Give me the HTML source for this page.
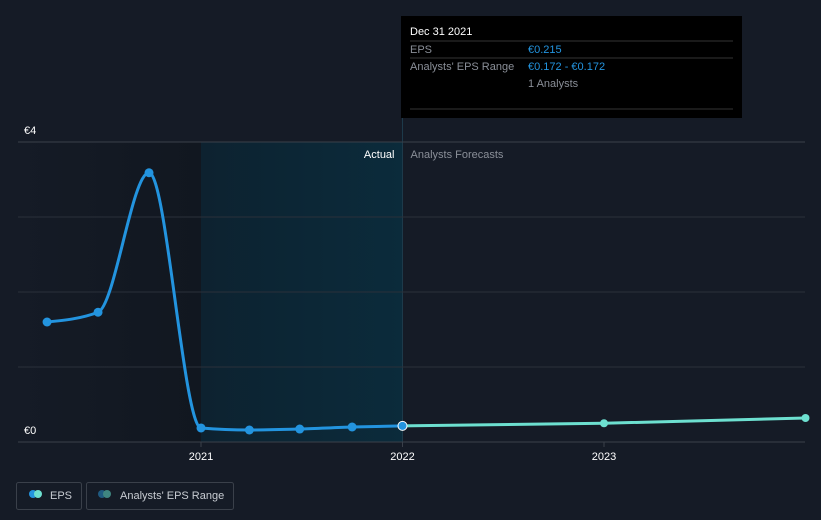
<!DOCTYPE html>
<html><head><meta charset="utf-8"><style>
html,body{margin:0;padding:0;background:#151b26;width:821px;height:520px;overflow:hidden;font-family:"Liberation Sans",sans-serif}
svg text{font-family:"Liberation Sans",sans-serif}
</style></head><body>
<svg id="chart" width="821" height="520">
<defs>
<linearGradient id="pastg" x1="0" x2="1"><stop offset="0" stop-color="#151b26"/><stop offset="1" stop-color="#111720"/></linearGradient>
<linearGradient id="hlg" x1="0" x2="1"><stop offset="0" stop-color="#0d2230"/><stop offset="1" stop-color="#0b2b3b"/></linearGradient>
</defs>
<g id="bg"></g><g id="grid"></g><g id="series"></g><g id="axes"></g>
<g>
<rect x="401" y="16" width="341" height="102" fill="#000"/>
<text x="410" y="35" fill="#fff" font-size="11">Dec 31 2021</text>
<line x1="410" y1="41" x2="733" y2="41" stroke="#333"/>
<text x="410" y="53" fill="#8a8f98" font-size="11">EPS</text>
<text x="528" y="53" fill="#2394df" font-size="11">€0.215</text>
<line x1="410" y1="58" x2="733" y2="58" stroke="#333"/>
<text x="410" y="70" fill="#8a8f98" font-size="11">Analysts' EPS Range</text>
<text x="528" y="70" fill="#2394df" font-size="11">€0.172 - €0.172</text>
<text x="528" y="87" fill="#8a8f98" font-size="11">1 Analysts</text>
<line x1="410" y1="109" x2="733" y2="109" stroke="#333"/>
</g>
<g>
<g>
<rect x="16.5" y="482.5" width="65" height="27" rx="2" fill="none" stroke="#3a404a"/>
<circle cx="33" cy="494" r="4" fill="#2394df"/><circle cx="38" cy="494" r="4" fill="#6de0d0"/>
<text x="50" y="499" fill="#c8ccd2" font-size="11">EPS</text></g>
<g>
<rect x="86.5" y="482.5" width="147" height="27" rx="2" fill="none" stroke="#3a404a"/>
<circle cx="102" cy="494" r="4" fill="#1f5a80"/><circle cx="107" cy="494" r="4" fill="#3f8580"/>
<text x="120" y="499" fill="#c8ccd2" font-size="11">Analysts' EPS Range</text></g>
</g>
</svg>
<script>
const actualDates=[2020.236,2020.489,2020.742,2021.0,2021.24,2021.49,2021.75,2022.0];
const actualEps=[1.6,1.73,3.59,0.187,0.16,0.173,0.2,0.215];
const forecastDates=[2022.0,2023.0,2024.0];
const forecastEps=[0.215,0.25,0.32];
const yTicks=[0,4];
const yTickLabels=["€0","€4"];
const xTicks=[2021,2022,2023];
const xTickLabels=["2021","2022","2023"];
const NS="http://www.w3.org/2000/svg";
const X=t=>201+(t-2021)*201.5;
const Y=v=>442-v*75;
function el(tag,attrs,parent,txt){const e=document.createElementNS(NS,tag);for(const k in attrs)e.setAttribute(k,attrs[k]);if(txt!=null)e.textContent=txt;parent.appendChild(e);return e;}
function mono(pts){const n=pts.length;if(n<2)return"";const h=[],s=[],m=[];
for(let i=0;i<n-1;i++){h.push(pts[i+1][0]-pts[i][0]);s.push((pts[i+1][1]-pts[i][1])/h[i]);}
const sg=v=>v<0?-1:1;
for(let i=1;i<n-1;i++){const p=(s[i-1]*h[i]+s[i]*h[i-1])/(h[i-1]+h[i]);m[i]=(sg(s[i-1])+sg(s[i]))*Math.min(Math.abs(s[i-1]),Math.abs(s[i]),0.5*Math.abs(p))||0;}
if(n>2){m[0]=(3*s[0]-m[1])/2;m[n-1]=(3*s[n-2]-m[n-2])/2;}else{m[0]=m[1]=s[0];}
let d="M"+pts[0][0]+","+pts[0][1];
for(let i=0;i<n-1;i++){const dx=h[i]/3;d+=" C"+(pts[i][0]+dx)+","+(pts[i][1]+m[i]*dx)+" "+(pts[i+1][0]-dx)+","+(pts[i+1][1]-m[i+1]*dx)+" "+pts[i+1][0]+","+pts[i+1][1];}
return d;}
const bg=document.getElementById('bg'),grid=document.getElementById('grid'),ser=document.getElementById('series'),ax=document.getElementById('axes');
let r=el('rect',{x:18,y:Y(4),width:X(2021)-18,height:Y(0)-Y(4),fill:'url(#pastg)'},bg);

r=el('rect',{x:X(2021),y:Y(4),width:X(2022)-X(2021),height:Y(0)-Y(4),fill:'url(#hlg)'},bg);

let l=el('line',{x1:X(2022),y1:16,x2:X(2022),y2:Y(0),stroke:'#1d3a4a'},bg);

let t=el('text',{x:X(2022)-8,y:158,fill:'#fff','font-size':11,'text-anchor':'end'},bg,'Actual');

t=el('text',{x:X(2022)+8,y:158,fill:'#8a8f98','font-size':11},bg,'Analysts Forecasts');

for(let v=1;v<4;v++){const g=el('line',{x1:18,x2:805,y1:Y(v),y2:Y(v),stroke:'#2a303a'},grid);}
l=el('line',{x1:18,x2:805,y1:Y(4),y2:Y(4),stroke:'#3a404a'},grid);

l=el('line',{x1:18,x2:805,y1:Y(0),y2:Y(0),stroke:'#3a404a'},ax);

yTicks.forEach((v,i)=>{const tt=el('text',{x:24,y:Y(v)-8,fill:'#fff','font-size':11},ax,yTickLabels[i]);});
xTicks.forEach((v,i)=>{const tk=el('line',{x1:X(v),x2:X(v),y1:Y(0),y2:Y(0)+5,stroke:'#3a404a'},ax);
const tt=el('text',{x:X(v),y:Y(0)+18,fill:'#fff','font-size':11,'text-anchor':'middle'},ax,xTickLabels[i]);});
const fp=forecastDates.map((d,i)=>[X(d),Y(forecastEps[i])]);
let p=el('path',{d:mono(fp),fill:'none',stroke:'#6de0d0','stroke-width':3},ser);

fp.slice(1).forEach(q=>{const c=el('circle',{cx:q[0],cy:q[1],r:4,fill:'#6de0d0'},ser);});
const ap=actualDates.map((d,i)=>[X(d),Y(actualEps[i])]);
p=el('path',{d:mono(ap),fill:'none',stroke:'#2394df','stroke-width':3},ser);

ap.forEach((q,i)=>{const c=el('circle',{cx:q[0],cy:q[1],r:4.5,fill:'#2394df',stroke:i==ap.length-1?'#fff':'none','stroke-width':1},ser);});
</script>
</body></html>
